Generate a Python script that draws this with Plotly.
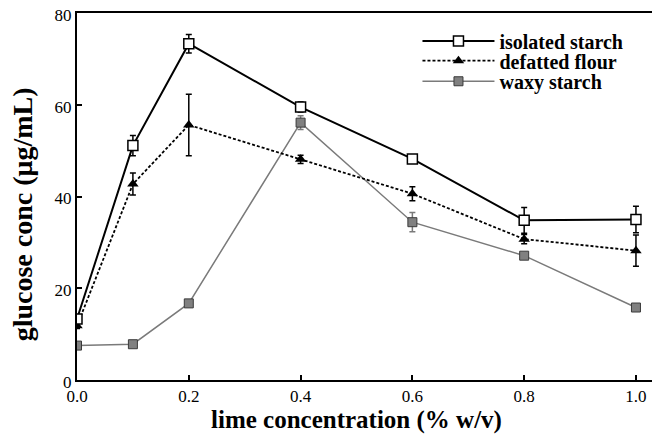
import plotly.graph_objects as go

lime = [0.0, 0.1, 0.2, 0.4, 0.6, 0.8, 1.0]

isolated = [13.3, 51.1, 73.3, 59.5, 48.2, 34.8, 35.0]
isolated_err = [0.8, 2.2, 2.0, 1.1, 0.5, 2.8, 2.9]

defatted = [11.8, 42.7, 55.6, 48.1, 40.6, 30.7, 28.2]
defatted_err = [0.6, 2.4, 6.7, 0.9, 1.5, 1.0, 3.4]

waxy = [7.5, 7.8, 16.7, 56.1, 34.4, 27.1, 15.8]
waxy_err = [0.3, 0.3, 0.6, 1.5, 2.1, 0.5, 0.5]

names = ["isolated starch", "defatted flour", "waxy starch"]
x_title = "lime concentration (% w/v)"
y_title = "glucose conc (μg/mL)"

serif = "Liberation Serif"

fig = go.Figure()

fig.add_trace(go.Scatter(
    x=lime, y=waxy, name=names[2], mode="lines+markers",
    line=dict(color="#7a7a7a", width=1.5),
    marker=dict(symbol="square", size=9, color="#808080",
                line=dict(color="#3a3a3a", width=1)),
    error_y=dict(type="data", array=waxy_err, visible=True,
                 color="#7a7a7a", thickness=1.5, width=3),
    legend="legend3",
))
fig.add_trace(go.Scatter(
    x=lime, y=defatted, name=names[1], mode="lines+markers",
    line=dict(color="black", width=1.8, dash="3px,2px"),
    marker=dict(symbol="triangle-up", size=10, color="black"),
    error_y=dict(type="data", array=defatted_err, visible=True,
                 color="black", thickness=1.5, width=3),
    legend="legend2",
))
fig.add_trace(go.Scatter(
    x=lime, y=isolated, name=names[0], mode="lines+markers",
    line=dict(color="black", width=2),
    marker=dict(symbol="square", size=10, color="white",
                line=dict(color="black", width=1.5)),
    error_y=dict(type="data", array=isolated_err, visible=True,
                 color="black", thickness=1.5, width=3),
    legend="legend",
))

def leg(y):
    return dict(
        x=0.584, y=y, xanchor="left", yanchor="middle",
        bgcolor="rgba(0,0,0,0)", borderwidth=0,
        font=dict(family=serif, size=20, color="black", weight="bold"),
        itemwidth=72,
    )

# page body has an 8px margin, so the figure is 8px smaller than the window
fig.update_layout(
    width=652, height=429,
    margin=dict(l=69, r=0, t=5, b=57, autoexpand=False),
    paper_bgcolor="white", plot_bgcolor="white",
    font=dict(family=serif, color="black", size=17),
    showlegend=True,
    legend=leg(0.924),
    legend2=leg(0.870),
    legend3=leg(0.814),
    xaxis=dict(
        range=[0, 1.043], tickvals=[0.0, 0.2, 0.4, 0.6, 0.8, 1.0],
        ticktext=["0.0", "0.2", "0.4", "0.6", "0.8", "1.0"],
        showgrid=False, zeroline=False, automargin=False,
        ticklabeloverflow="allow",
        showline=True, linecolor="black", linewidth=2, mirror=True,
        ticks="inside", ticklen=5, tickwidth=1.5, tickcolor="black",
        tickfont=dict(family=serif, size=17),
    ),
    yaxis=dict(
        range=[0, 80], tickvals=[0, 20, 40, 60, 80],
        showgrid=False, zeroline=False, automargin=False,
        ticklabeloverflow="allow", ticklabelshift=2,
        showline=True, linecolor="black", linewidth=2,
        ticks="inside", ticklen=5, tickwidth=1.5, tickcolor="black",
        tickfont=dict(family=serif, size=17),
    ),
    annotations=[
        dict(text=x_title, xref="paper", yref="paper", x=0.480, y=-0.109,
             xanchor="center", yanchor="middle", showarrow=False,
             font=dict(family=serif, size=25, weight="bold", color="black")),
        dict(text=y_title, xref="paper", yref="paper", x=-0.094, y=0.452,
             xanchor="center", yanchor="middle", showarrow=False,
             textangle=-90,
             font=dict(family=serif, size=28, weight="bold", color="black")),
    ],
)

fig.write_html("out.html")
